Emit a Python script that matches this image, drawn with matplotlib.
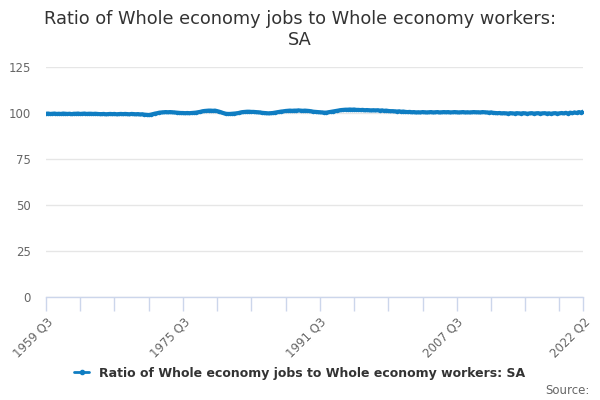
import numpy as np
import matplotlib
matplotlib.use('Agg')
import matplotlib.pyplot as plt
import matplotlib.ticker as ticker

# quarterly values, 1959 Q3 .. 2022 Q2
ratio_by_year = {
    1959: [99.6, 99.7],
    1960: [99.5, 99.6, 99.7, 99.5],
    1961: [99.6, 99.5, 99.7, 99.6],
    1962: [99.5, 99.6, 99.4, 99.6],
    1963: [99.6, 99.7, 99.5, 99.6],
    1964: [99.7, 99.5, 99.6, 99.6],
    1965: [99.5, 99.6, 99.5, 99.4],
    1966: [99.4, 99.5, 99.3, 99.4],
    1967: [99.5, 99.4, 99.5, 99.3],
    1968: [99.4, 99.5, 99.4, 99.5],
    1969: [99.4, 99.3, 99.5, 99.4],
    1970: [99.3, 99.4, 99.2, 99.3],
    1971: [99.1, 99.0, 98.9, 99.1],
    1972: [99.4, 99.7, 99.9, 100.2],
    1973: [100.3, 100.4, 100.5, 100.4],
    1974: [100.5, 100.4, 100.3, 100.2],
    1975: [100.1, 100.0, 100.0, 99.9],
    1976: [100.0, 99.9, 100.0, 100.1],
    1977: [100.2, 100.4, 100.6, 100.9],
    1978: [101.1, 101.2, 101.3, 101.3],
    1979: [101.2, 101.3, 101.0, 100.7],
    1980: [100.3, 99.9, 99.6, 99.5],
    1981: [99.5, 99.6, 99.7, 99.8],
    1982: [100.0, 100.3, 100.5, 100.6],
    1983: [100.7, 100.7, 100.6, 100.6],
    1984: [100.5, 100.4, 100.3, 100.1],
    1985: [100.0, 99.9, 99.8, 99.9],
    1986: [100.0, 100.2, 100.4, 100.6],
    1987: [100.8, 100.9, 101.1, 101.2],
    1988: [101.3, 101.2, 101.3, 101.3],
    1989: [101.4, 101.3, 101.2, 101.3],
    1990: [101.2, 101.1, 100.9, 100.7],
    1991: [100.6, 100.5, 100.4, 100.3],
    1992: [100.2, 100.2, 100.4, 100.6],
    1993: [100.8, 101.0, 101.2, 101.4],
    1994: [101.6, 101.7, 101.8, 101.8],
    1995: [101.9, 101.8, 101.9, 101.7],
    1996: [101.7, 101.6, 101.7, 101.5],
    1997: [101.6, 101.5, 101.4, 101.5],
    1998: [101.4, 101.5, 101.3, 101.4],
    1999: [101.2, 101.3, 101.1, 101.0],
    2000: [101.0, 100.9, 100.8, 100.9],
    2001: [100.7, 100.8, 100.6, 100.5],
    2002: [100.6, 100.4, 100.5, 100.3],
    2003: [100.4, 100.3, 100.5, 100.4],
    2004: [100.3, 100.4, 100.5, 100.3],
    2005: [100.4, 100.5, 100.3, 100.4],
    2006: [100.5, 100.4, 100.5, 100.3],
    2007: [100.4, 100.5, 100.4, 100.3],
    2008: [100.4, 100.5, 100.3, 100.4],
    2009: [100.3, 100.4, 100.5, 100.4],
    2010: [100.4, 100.3, 100.5, 100.4],
    2011: [100.3, 100.2, 100.3, 100.1],
    2012: [100.0, 99.9, 100.0, 99.8],
    2013: [99.9, 99.8, 99.7, 99.9],
    2014: [99.8, 99.7, 99.9, 99.8],
    2015: [99.7, 99.9, 99.8, 99.6],
    2016: [99.8, 99.9, 99.7, 99.8],
    2017: [99.9, 99.7, 99.8, 99.9],
    2018: [99.7, 99.8, 99.6, 99.8],
    2019: [99.9, 99.7, 99.8, 100.0],
    2020: [99.8, 100.1, 99.7, 100.2],
    2021: [99.9, 100.3, 100.0, 100.5],
    2022: [100.2, 100.7],
}

labels = []
values = []
for year, vals in ratio_by_year.items():
    first_q = 3 if year == 1959 else 1
    for i, v in enumerate(vals):
        labels.append('%d Q%d' % (year, first_q + i))
        values.append(v)

x = np.arange(len(values))
yticks = [0, 25, 50, 75, 100, 125]
series_name = 'Ratio of Whole economy jobs to Whole economy workers: SA'

fig = plt.figure(figsize=(6, 4), dpi=100)
ax = fig.add_axes([0.0767, 0.2575, 0.895, 0.575])

line_color = '#0f7dc2'
ax.plot(x, values, color=line_color, lw=3, marker='o', markersize=1.5,
        solid_capstyle='round', label=series_name, zorder=3)

ax.set_xlim(0, len(values) - 1)
ax.set_ylim(0, 125)
ax.set_yticks(yticks)
ax.yaxis.grid(True, color='#e6e6e6', lw=1)
ax.set_axisbelow(True)

for s in ['top', 'right', 'left']:
    ax.spines[s].set_visible(False)
ax.spines['bottom'].set_color('#ccd6eb')
ax.spines['bottom'].set_linewidth(1)

# every 16 quarters a tick, labels every 64 quarters, plus the last quarter
tick_pos = list(range(0, len(values), 16)) + [len(values) - 1]
ax.set_xticks(tick_pos)
ax.set_xticklabels([labels[p] if (p % 64 == 0 or p == len(values) - 1) else '' for p in tick_pos],
                   rotation=45, ha='right', rotation_mode='anchor')
ax.tick_params(axis='x', colors='#ccd6eb', length=10, width=1, labelcolor='#666666',
               labelsize=8.5, pad=3)
ax.tick_params(axis='y', length=0, labelcolor='#666666', labelsize=8.5, pad=11)

fig.text(0.5, 0.975, 'Ratio of Whole economy jobs to Whole economy workers:\nSA',
         ha='center', va='top', fontsize=12.8, color='#333333', linespacing=1.2)

leg = fig.legend(loc='center', bbox_to_anchor=(0.5, 0.067), frameon=False,
                 handlelength=1.2, prop={'weight': 'bold', 'size': 9})
for t in leg.get_texts():
    t.set_color('#333333')
for h in leg.legend_handles:
    h.set_linewidth(2)
    h.set_markersize(3)

fig.text(0.982, 0.025, 'Source:', ha='right', va='center', fontsize=8.5, color='#666666')

fig.savefig('out.png', dpi=100)
